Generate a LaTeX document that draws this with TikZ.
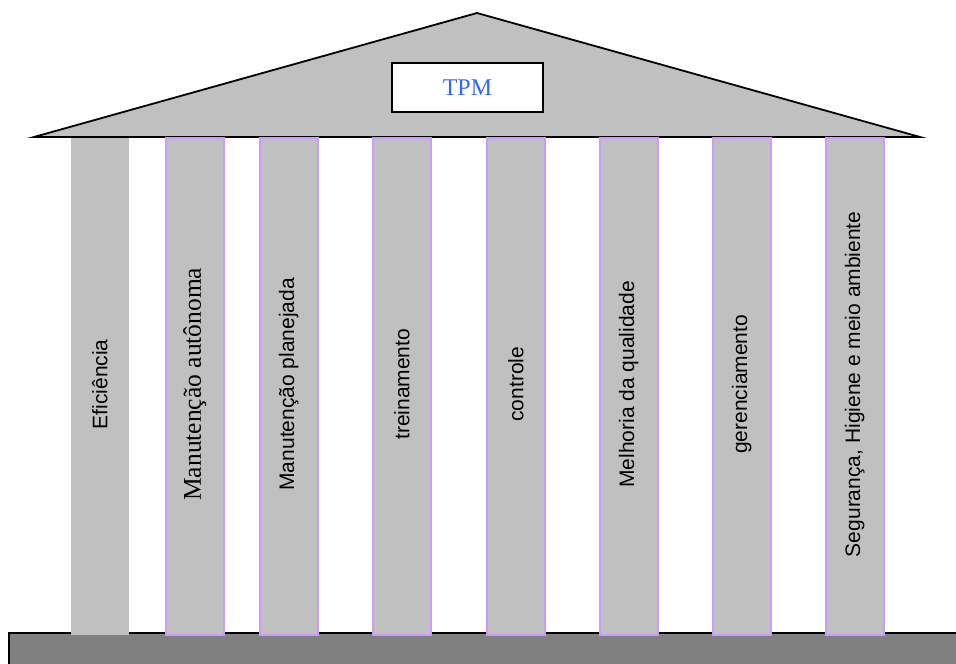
\documentclass[tikz,border=0pt]{standalone}
\usepackage{fontspec}
\setmainfont{Liberation Serif}
\setsansfont{Liberation Sans}
\newfontfamily\pillarserif{Liberation Serif}
\definecolor{stone}{HTML}{C0C0C0}
\definecolor{plinth}{HTML}{808080}
\definecolor{lilac}{HTML}{CC99FF}
\definecolor{tpmblue}{HTML}{3366FF}
\tikzset{
  pillar/.style={fill=stone, draw=lilac, line width=1.5pt, minimum width=58pt, minimum height=497pt, inner sep=0pt, anchor=north west},
  plainpillar/.style={pillar, draw=none},
  pillarlabel/.style={rotate=90, inner sep=0pt, xshift=2pt},
  pillartext/.style={pillarlabel, font=\sffamily\fontsize{21}{25}\selectfont},
  pillarserif/.style={pillarlabel, font=\pillarserif\fontsize{25.5}{30}\selectfont}
}
\begin{document}
\begin{tikzpicture}[x=1pt, y=-1pt]
  \useasboundingbox (0,0) rectangle (956,664);
  % base slab
  \draw[fill=plinth, line width=1.8pt] (9,633) rectangle (970,680);
  % roof
  \coordinate (eaveL) at (34,137);
  \coordinate (apex) at (477,13);
  \coordinate (eaveR) at (920,137);
  \draw[fill=stone, line width=1.8pt, line join=miter] (eaveL) -- (apex) -- (eaveR) -- cycle;
  \node[draw, fill=white, line width=1.8pt, minimum width=151pt, minimum height=49pt, inner sep=0pt,
        text=tpmblue, font=\fontsize{24}{28}\selectfont] (tpm) at (467.5,87.5) {TPM};
  % pillars
  \node[plainpillar] (p1) at (70,137) {};
  \node[pillar] (p2) at (165,137) {};
  \node[pillar] (p3) at (259,137) {};
  \node[pillar] (p4) at (372,137) {};
  \node[pillar] (p5) at (486,137) {};
  \node[pillar] (p6) at (599,137) {};
  \node[pillar] (p7) at (712,137) {};
  \node[pillar] (p8) at (825,137) {};
  % pillar labels
  \node[pillartext] (t1) at (p1.center) {Eficiência};
  \node[pillarserif] (t2) at (p2.center) {Manutenção autônoma};
  \node[pillartext] (t3) at (p3.center) {Manutenção planejada};
  \node[pillartext] (t4) at (p4.center) {treinamento};
  \node[pillartext] (t5) at (p5.center) {controle};
  \node[pillartext] (t6) at (p6.center) {Melhoria da qualidade};
  \node[pillartext] (t7) at (p7.center) {gerenciamento};
  \node[pillartext] (t8) at (p8.center) {Segurança, Higiene e meio ambiente};
\end{tikzpicture}
\end{document}
